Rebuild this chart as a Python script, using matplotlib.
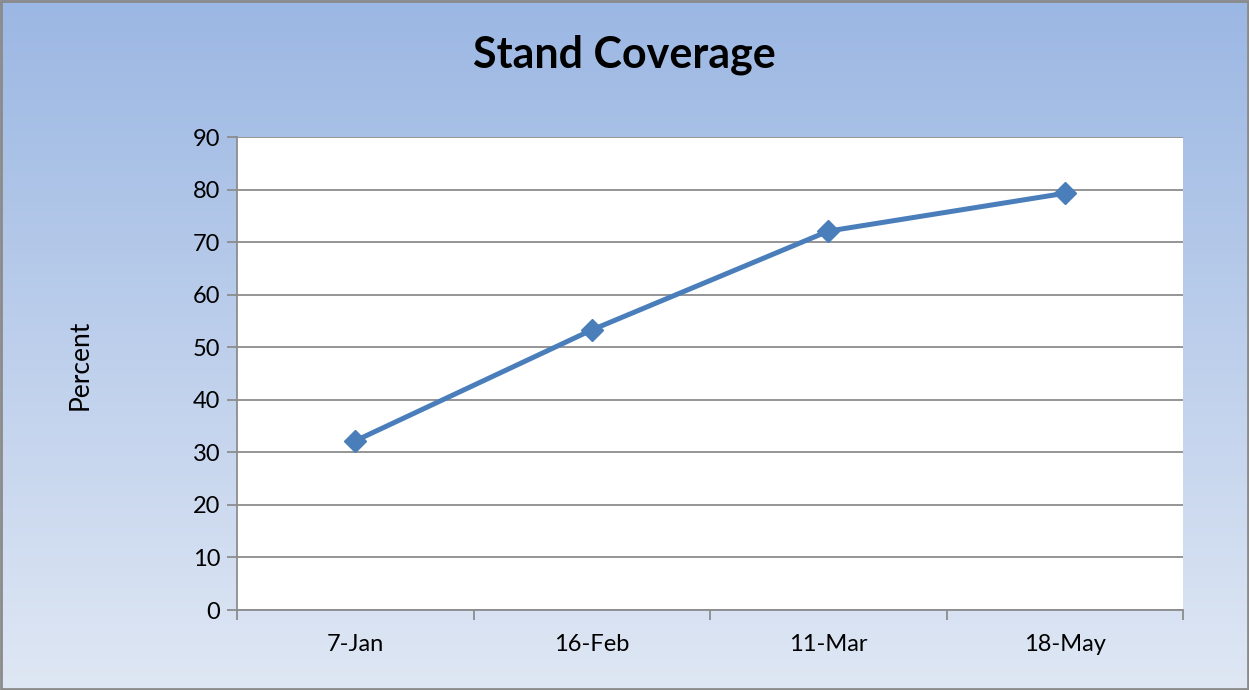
import numpy as np
import matplotlib
matplotlib.use("Agg")
import matplotlib.pyplot as plt
from matplotlib.patches import Rectangle

plt.rcParams["font.family"] = ["Lato", "DejaVu Sans"]

# chart data
dates = ["7-Jan", "16-Feb", "11-Mar", "18-May"]
percent = [32.2, 53.3, 72.1, 79.3]
y_ticks = [0, 10, 20, 30, 40, 50, 60, 70, 80, 90]

LINE_COLOR = "#4a7ebb"
GRID_COLOR = "#8c8c8c"

fig = plt.figure(figsize=(12.49, 6.9), dpi=100)

# gradient background over the whole figure
bg = fig.add_axes([0, 0, 1, 1], zorder=-10)
top = np.array([0x9b, 0xb7, 0xe3]) / 255
bottom = np.array([0xdf, 0xe7, 0xf4]) / 255
t = np.linspace(0, 1, 256)[:, None]
grad = top * (1 - t) + bottom * t
bg.imshow(grad[:, None, :], aspect="auto", extent=[0, 1, 0, 1])
bg.add_patch(Rectangle((0.001, 0.002), 0.998, 0.996, fill=False,
                       edgecolor="#8a8a8a", linewidth=2.0, transform=bg.transAxes))
bg.set_axis_off()

ax = fig.add_axes([0.1898, 0.1159, 0.7575, 0.6855])
ax.set_facecolor("white")
x = np.arange(len(dates))
ax.plot(x, percent, color=LINE_COLOR, linewidth=3.6, marker="D",
        markersize=11, markerfacecolor=LINE_COLOR, markeredgecolor=LINE_COLOR,
        zorder=3, clip_on=False)

ax.set_xlim(-0.5, len(dates) - 0.5)
ax.set_ylim(0, 90)
ax.set_yticks(y_ticks)
ax.set_xticks(x)
ax.set_xticklabels(dates)
ax.set_xticks(np.arange(-0.5, len(dates)), minor=True)
ax.tick_params(axis="x", which="major", length=0, pad=17, labelsize=17)
ax.tick_params(axis="x", which="minor", length=7, width=1.3, color=GRID_COLOR,
               direction="out")
ax.tick_params(axis="y", length=7, width=1.3, color=GRID_COLOR, direction="out",
               labelsize=17, pad=5)
ax.yaxis.grid(True, color=GRID_COLOR, linewidth=1.3)
ax.set_axisbelow(True)

for side in ("top", "right"):
    ax.spines[side].set_visible(False)
for side in ("left", "bottom"):
    ax.spines[side].set_color(GRID_COLOR)
    ax.spines[side].set_linewidth(1.3)

fig.text(0.064, 0.471, "Percent", rotation=90, ha="center", va="center",
         fontsize=19)
fig.text(0.5, 0.92, "Stand Coverage", ha="center", va="center",
         fontsize=31, fontweight="bold")

fig.savefig("out.png", dpi=100)
